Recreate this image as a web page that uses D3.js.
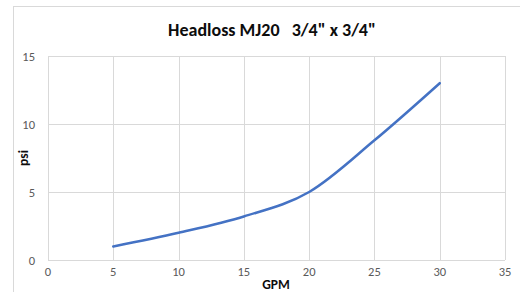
<!DOCTYPE html>
<html lang="en">
<head>
    <meta charset="utf-8" />
    <script src="https://d3js.org/d3.v7.min.js"></script>
    <style>
        body { margin: 0; background: #fff; }
        text { font-family: Carlito, Calibri, "Open Sans", sans-serif; }
    </style>
</head>
<body>
    <script>
        // data
        const gpm = [5, 10, 15, 20, 25, 30];
        const psi = [1.0, 2.0, 3.2, 5.0, 8.8, 13.0];
        const xTicks = [0, 5, 10, 15, 20, 25, 30, 35];
        const yTicks = [0, 5, 10, 15];

        const w = 520;
        const h = 292;
        const margin = { left: 48, right: 15, top: 56, bottom: 32 };

        const svg = d3.select("body")
            .append("svg")
            .attr("width", w)
            .attr("height", h);

        // chart frame
        svg.append("rect")
            .attr("x", 13.5)
            .attr("y", 6.5)
            .attr("width", w)
            .attr("height", h)
            .attr("fill", "none")
            .attr("stroke", "#d9d9d9");

        const xScale = d3.scaleLinear()
            .domain([0, 35])
            .range([margin.left, w - margin.right]);

        const yScale = d3.scaleLinear()
            .domain([0, 15])
            .range([h - margin.bottom, margin.top]);

        // gridlines
        svg.append("g")
            .selectAll("line")
            .data(xTicks)
            .join("line")
            .attr("x1", d => Math.round(xScale(d)) + 0.5)
            .attr("x2", d => Math.round(xScale(d)) + 0.5)
            .attr("y1", yScale(15))
            .attr("y2", yScale(0))
            .attr("stroke", "#d9d9d9");

        svg.append("g")
            .selectAll("line")
            .data(yTicks)
            .join("line")
            .attr("x1", xScale(0))
            .attr("x2", xScale(35))
            .attr("y1", d => Math.round(yScale(d)) + 0.5)
            .attr("y2", d => Math.round(yScale(d)) + 0.5)
            .attr("stroke", "#d9d9d9");

        // tick labels
        svg.append("g")
            .selectAll("text")
            .data(xTicks)
            .join("text")
            .attr("x", d => xScale(d))
            .attr("y", h - margin.bottom + 16)
            .attr("text-anchor", "middle")
            .attr("font-size", "12.5px")
            .attr("fill", "#595959")
            .text(d => d);

        svg.append("g")
            .selectAll("text")
            .data(yTicks)
            .join("text")
            .attr("x", 35)
            .attr("y", d => yScale(d) + 4.5)
            .attr("text-anchor", "end")
            .attr("font-size", "12.5px")
            .attr("fill", "#595959")
            .text(d => d);

        // the curve
        const line = d3.line()
            .x((d, i) => xScale(gpm[i]))
            .y(d => yScale(d))
            .curve(d3.curveCardinal.tension(0));

        svg.append("path")
            .datum(psi)
            .attr("d", line)
            .attr("fill", "none")
            .attr("stroke", "#4472c4")
            .attr("stroke-width", 2.5)
            .attr("stroke-linecap", "round");

        // titles
        svg.append("text")
            .attr("x", 272)
            .attr("y", 36)
            .attr("text-anchor", "middle")
            .attr("font-size", "18px")
            .attr("font-weight", "bold")
            .attr("fill", "#0d0d0d")
            .attr("xml:space", "preserve")
            .style("white-space", "pre")
            .text("Headloss MJ20   3/4\" x 3/4\"");

        svg.append("text")
            .attr("x", 276)
            .attr("y", 289)
            .attr("text-anchor", "middle")
            .attr("font-size", "13.5px")
            .attr("font-weight", "bold")
            .attr("fill", "#0d0d0d")
            .text("GPM");

        svg.append("text")
            .attr("transform", "translate(28, 158) rotate(-90)")
            .attr("text-anchor", "middle")
            .attr("font-size", "13.5px")
            .attr("font-weight", "bold")
            .attr("fill", "#0d0d0d")
            .text("psi");
    </script>
</body>
</html>
